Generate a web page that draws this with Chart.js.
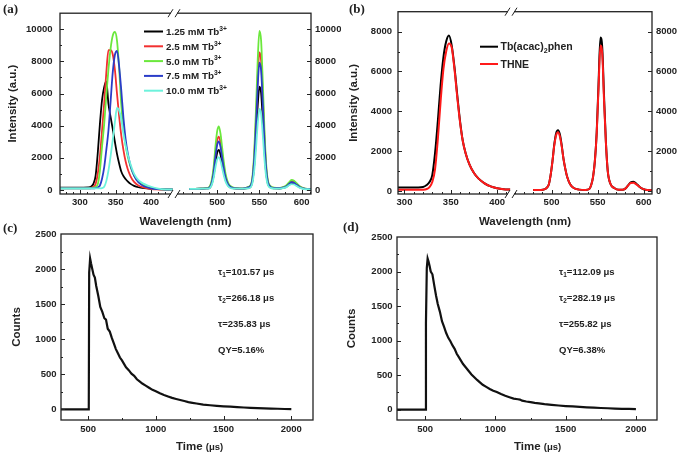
<!DOCTYPE html>
<html>
<head>
<meta charset="utf-8">
<script src="https://cdn.jsdelivr.net/npm/chart.js@4.4.0/dist/chart.umd.min.js"></script>
<style>
  body { margin: 0; background: #fff; width: 682px; height: 455px; position: relative; overflow: hidden; }
  canvas { position: absolute; }
</style>
</head>
<body>
<canvas id="ca" width="341" height="235" style="left:0;top:0"></canvas>
<canvas id="cb" width="341" height="235" style="left:341px;top:0"></canvas>
<canvas id="cc" width="341" height="245" style="left:0;top:210px"></canvas>
<canvas id="cd" width="341" height="245" style="left:341px;top:210px"></canvas>
<script>
// ---- panel (a): excitation (left) / emission (right), five Tb3+ concentrations ----
const A_LEFT_NM = [272, 290, 305, 312, 316, 319, 322, 325, 328, 331, 334, 337, 340, 343, 346, 349, 352, 355, 358, 361, 364, 367, 371, 376, 382, 390, 400, 410, 420, 430];
const A_LEFT = [
  [150, 150, 150, 160, 220, 400, 900, 2300, 4100, 5600, 6400, 6750, 5350, 4550, 3800, 3000, 2250, 1650, 1150, 870, 680, 530, 380, 260, 170, 110, 70, 50, 40, 40],
  [120, 120, 120, 120, 140, 200, 380, 1000, 2100, 3700, 5400, 7300, 8700, 8700, 8450, 7500, 6000, 4600, 3400, 2500, 1800, 1300, 850, 500, 280, 150, 60, 30, 20, 20],
  [100, 100, 100, 100, 110, 140, 200, 350, 1200, 2700, 4100, 5900, 7500, 8800, 9600, 9830, 9300, 7600, 5300, 3800, 2800, 2100, 1450, 900, 520, 270, 120, 50, 30, 30],
  [100, 100, 100, 100, 100, 100, 120, 160, 280, 700, 1400, 2500, 3700, 5500, 7300, 8400, 8650, 7700, 6200, 4500, 3200, 2300, 1500, 900, 480, 230, 100, 50, 30, 30],
  [100, 100, 100, 100, 100, 100, 100, 100, 100, 120, 200, 550, 1200, 2100, 3100, 4200, 5100, 4950, 4400, 3500, 2800, 2200, 1600, 1000, 620, 380, 200, 90, 40, 30]
];
const A_RIGHT_NM = [467, 474, 481, 487, 490, 492, 494, 496, 498, 500, 502, 504, 506, 508, 510, 513, 517, 524, 530, 534, 537, 540, 542, 544, 546, 548, 550, 552, 554, 556, 558, 560, 563, 567, 574, 578, 582, 585, 588, 591, 594, 598, 603, 607, 611];
const A_RIGHT = [
  [70, 70, 80, 95, 95, 190, 440, 945, 1700, 2300, 2490, 2200, 1640, 1070, 630, 285, 125, 90, 80, 100, 130, 230, 620, 1620, 3310, 5260, 6430, 6040, 4350, 2400, 1040, 390, 160, 100, 90, 125, 210, 335, 435, 400, 295, 155, 70, 45, 40],
  [70, 70, 80, 100, 130, 250, 590, 1260, 2270, 3070, 3320, 2940, 2180, 1430, 840, 380, 170, 100, 85, 120, 180, 300, 820, 2160, 4410, 7010, 8560, 8040, 5800, 3200, 1380, 520, 220, 130, 120, 160, 270, 430, 560, 510, 380, 200, 90, 55, 45],
  [70, 70, 80, 110, 150, 300, 700, 1500, 2700, 3650, 3950, 3500, 2600, 1700, 1000, 450, 200, 110, 90, 130, 200, 350, 950, 2500, 5100, 8100, 9900, 9300, 6700, 3700, 1600, 600, 250, 150, 130, 180, 300, 480, 620, 570, 420, 220, 100, 60, 50],
  [70, 70, 80, 100, 115, 230, 535, 1150, 2070, 2790, 3020, 2680, 1990, 1300, 765, 345, 155, 100, 85, 115, 160, 280, 760, 2000, 4080, 6480, 7920, 7440, 5360, 2960, 1280, 480, 200, 120, 110, 140, 230, 370, 480, 440, 320, 170, 80, 50, 45],
  [70, 70, 80, 90, 80, 155, 365, 780, 1400, 1900, 2050, 1820, 1350, 885, 520, 235, 105, 90, 80, 90, 100, 180, 485, 1275, 2600, 4130, 5050, 4740, 3420, 1890, 815, 305, 130, 90, 80, 110, 180, 290, 370, 340, 250, 130, 60, 45, 40]
];
const A_NAMES = ['1.25 mM Tb', '2.5 mM Tb', '5.0 mM Tb', '7.5 mM Tb', '10.0 mM Tb'];
const A_COLORS = ['#000000', '#f23030', '#6be83c', '#2a3cc8', '#6df2dc'];

// ---- panel (b): Tb(acac)2phen vs THNE ----
const B_LEFT_NM = [293, 305, 315, 320, 324, 327, 330, 333, 336, 339, 342, 345, 348, 351, 354, 357, 360, 363, 366, 370, 375, 380, 386, 393, 400, 407, 414];
const B_COMPLEX_L = [180, 180, 180, 200, 300, 450, 800, 1900, 3500, 5300, 6700, 7500, 7800, 7300, 6200, 4800, 3500, 2500, 1900, 1350, 900, 620, 400, 230, 140, 90, 70];
const B_THNE_L = [60, 60, 60, 65, 100, 200, 450, 1100, 2600, 4500, 6100, 7000, 7400, 7200, 6100, 4700, 3450, 2500, 1900, 1350, 900, 620, 400, 230, 140, 90, 70];
const B_RIGHT_NM = [480, 488, 492, 495, 497, 499, 501, 503, 505, 507, 509, 511, 513, 515, 517, 520, 524, 530, 537, 541, 543, 545, 547, 549, 551, 553, 555, 557, 559, 561, 564, 568, 573, 577, 580, 583, 586, 589, 592, 596, 600, 604, 609];
const B_COMPLEX_R = [50, 55, 80, 170, 330, 800, 1500, 2350, 2900, 3050, 2850, 2300, 1600, 1100, 700, 350, 150, 70, 55, 100, 300, 700, 1500, 2950, 5400, 7700, 7200, 4700, 2450, 1000, 350, 150, 60, 60, 120, 280, 440, 470, 370, 190, 90, 50, 35];
const B_THNE_R = [50, 55, 80, 170, 330, 800, 1500, 2300, 2800, 2950, 2750, 2250, 1600, 1100, 700, 350, 150, 70, 55, 100, 300, 700, 1500, 2900, 5200, 7300, 6900, 4500, 2400, 1000, 350, 150, 60, 60, 120, 270, 400, 410, 330, 190, 90, 50, 35];

// ---- panels (c), (d): decay curves ----
const C_TIME = [300, 505, 508, 515, 522, 530, 540, 550, 560, 575, 590, 605, 620, 632, 645, 660, 675, 690, 705, 720, 735, 750, 765, 780, 800, 820, 840, 860, 880, 900, 925, 950, 975, 1000, 1030, 1060, 1090, 1120, 1150, 1180, 1210, 1240, 1270, 1300, 1350, 1400, 1450, 1500, 1550, 1600, 1650, 1700, 1750, 1800, 1850, 1900, 1950, 2000];
const C_COUNTS = [0, 0, 1950, 2150, 2080, 2010, 1920, 1880, 1760, 1620, 1460, 1390, 1300, 1280, 1150, 1110, 1020, 940, 860, 800, 740, 700, 650, 600, 560, 510, 480, 430, 400, 370, 340, 310, 280, 260, 230, 205, 185, 165, 150, 135, 120, 105, 95, 85, 70, 60, 52, 45, 40, 33, 28, 22, 18, 15, 12, 10, 7, 5];
const D_TIME = [300, 504, 506, 512, 518, 524, 532, 540, 552, 565, 578, 590, 605, 620, 635, 650, 665, 680, 695, 710, 725, 740, 755, 770, 790, 810, 830, 850, 870, 890, 910, 935, 960, 985, 1010, 1040, 1070, 1100, 1130, 1160, 1175, 1190, 1220, 1250, 1280, 1310, 1350, 1400, 1450, 1500, 1550, 1600, 1650, 1700, 1750, 1800, 1850, 1900, 1950, 2000];
const D_COUNTS = [0, 0, 1250, 2050, 2190, 2150, 2080, 2000, 1960, 1800, 1650, 1530, 1420, 1280, 1200, 1110, 1040, 990, 930, 880, 810, 760, 710, 660, 610, 560, 510, 470, 430, 395, 360, 330, 300, 275, 255, 225, 200, 180, 160, 150, 145, 130, 118, 108, 98, 90, 80, 70, 60, 52, 46, 40, 34, 28, 24, 20, 15, 12, 10, 8];
const C_NOTES = [['1', '=101.57 μs'], ['2', '=266.18 μs'], [null, 'τ=235.83 μs'], [null, 'QY=5.16%']];
const D_NOTES = [['1', '=112.09 μs'], ['2', '=282.19 μs'], [null, 'τ=255.82 μs'], [null, 'QY=6.38%']];

// tick labels
const WL_LEFT_LABELS = [300, 350, 400];
const WL_RIGHT_LABELS = [500, 550, 600];
const A_Y_LABELS = [0, 2000, 4000, 6000, 8000, 10000];
const B_Y_LABELS = [0, 2000, 4000, 6000, 8000];
const T_LABELS = [500, 1000, 1500, 2000];
const CNT_LABELS = [0, 500, 1000, 1500, 2000, 2500];

const FONT = "'Liberation Sans', Arial, sans-serif";
const SERIF = "'Liberation Serif', 'Times New Roman', serif";
Chart.defaults.font.family = FONT;
Chart.defaults.font.weight = 'bold';
Chart.defaults.font.size = 9.5;
Chart.defaults.color = '#222';

function pts(xs, ys) { return xs.map((x, i) => ({x: x, y: ys[i]})); }
function seq(a, b, st) { const out = []; for (let v = a; v <= b + 1e-9; v += st) out.push(v); return out; }

function drawRich(ctx, t) {
  const fam = t.family || FONT;
  const size = sg => (sg[2] || t.size) * (sg[1] ? 0.68 : 1);
  let w = 0;
  t.segs.forEach(sg => { ctx.font = 'bold ' + size(sg) + 'px ' + fam; w += ctx.measureText(sg[0]).width; });
  let x = t.align === 'center' ? t.x - w / 2 : t.x;
  ctx.textAlign = 'left';
  ctx.textBaseline = 'alphabetic';
  t.segs.forEach(sg => {
    const base = sg[2] || t.size;
    ctx.font = 'bold ' + size(sg) + 'px ' + fam;
    const dy = sg[1] === 1 ? -base * 0.42 : sg[1] === -1 ? base * 0.22 : 0;
    ctx.fillText(sg[0], x, t.y + dy);
    x += ctx.measureText(sg[0]).width;
  });
}

// frame, inward ticks, axis break, legend lines and free text
const decor = {
  id: 'decor',
  afterDatasetsDraw(chart, args, o) {
    const {ctx, chartArea: a} = chart;
    ctx.save();
    ctx.strokeStyle = '#222';
    ctx.lineWidth = 1.3;
    ctx.strokeRect(a.left, a.top, a.width, a.height);
    ctx.lineWidth = 1;
    o.tickAxes.forEach(id => {
      const s = chart.scales[id];
      s.ticks.forEach(t => {
        if (t.value <= s.min || t.value >= s.max) return;
        const len = t.label ? 4 : 2;
        const p = Math.round(s.getPixelForValue(t.value)) + 0.5;
        ctx.beginPath();
        if (s.isHorizontal()) { ctx.moveTo(p, a.bottom); ctx.lineTo(p, a.bottom - len); }
        else if (s.position === 'left') { ctx.moveTo(a.left, p); ctx.lineTo(a.left + len, p); }
        else { ctx.moveTo(a.right, p); ctx.lineTo(a.right - len, p); }
        ctx.stroke();
      });
    });
    if (o.brk) {
      const bx = chart.scales.xl.right;
      [a.top, a.bottom].forEach(by => {
        ctx.fillStyle = '#fff';
        ctx.fillRect(bx - 3, by - 2, 6, 4);
        ctx.beginPath();
        ctx.moveTo(bx - 6, by + 4); ctx.lineTo(bx - 1, by - 4);
        ctx.moveTo(bx + 1, by + 4); ctx.lineTo(bx + 6, by - 4);
        ctx.stroke();
      });
    }
    (o.legend || []).forEach(it => {
      ctx.strokeStyle = it.color;
      ctx.lineWidth = 2;
      ctx.beginPath(); ctx.moveTo(it.x1, it.y); ctx.lineTo(it.x2, it.y); ctx.stroke();
    });
    ctx.fillStyle = '#222';
    (o.texts || []).forEach(t => drawRich(ctx, t));
    ctx.restore();
  }
};

function axisTicks(tickVals, labels, pad) {
  return {
    afterBuildTicks: s => { s.ticks = tickVals.map(v => ({value: v})); },
    ticks: {autoSkip: false, maxRotation: 0, padding: pad, callback: v => (labels.includes(v) ? String(v) : '')}
  };
}
function yScale(pos, min, max, tickVals, labels, width, pad, title, titlePad) {
  return Object.assign({
    type: 'linear', position: pos, min: min, max: max,
    grid: {display: false, drawTicks: false}, border: {display: false},
    title: title ? {display: true, text: title, font: {size: 11.5}, padding: {top: titlePad, bottom: 0}} : {display: false},
    afterFit: s => { s.width = width; }
  }, axisTicks(tickVals, labels, pad));
}
function xScale(min, max, tickVals, labels, height, pad, stackW) {
  const o = Object.assign({
    type: 'linear', position: 'bottom', min: min, max: max,
    grid: {display: false, drawTicks: false}, border: {display: false},
    afterFit: s => { s.height = height; }
  }, axisTicks(tickVals, labels, pad));
  if (stackW) { o.stack = 'wl'; o.stackWeight = stackW; }
  return o;
}
function baseOptions(pad, scales, decorOpts, lineW, smooth) {
  return {
    responsive: false, animation: false,
    layout: {padding: pad},
    elements: {point: {radius: 0}, line: {borderWidth: lineW, cubicInterpolationMode: smooth ? 'monotone' : 'default', tension: 0}},
    plugins: {legend: {display: false}, tooltip: {enabled: false}, decor: decorOpts},
    scales: scales
  };
}

// ---- (a) ----
const dsA = [];
A_NAMES.forEach((n, i) => {
  dsA.push({label: n, data: pts(A_LEFT_NM, A_LEFT[i]), borderColor: A_COLORS[i], xAxisID: 'xl', yAxisID: 'y', order: 5 - i});
  dsA.push({label: n, data: pts(A_RIGHT_NM, A_RIGHT[i]), borderColor: A_COLORS[i], xAxisID: 'xr', yAxisID: 'y', order: 5 - i});
});
const textsA = [
  {x: 3, y: 12.5, size: 13, family: SERIF, segs: [['(a)', 0]]},
  {x: 185.5, y: 225, size: 11.5, align: 'center', segs: [['Wavelength (nm)', 0]]}
];
const legA = [];
A_NAMES.forEach((n, i) => {
  const y = 31.5 + 14.8 * i;
  legA.push({x1: 144, x2: 163, y: y, color: A_COLORS[i]});
  textsA.push({x: 166, y: y + 3.5, size: 9.8, segs: [[n, 0], ['3+', 1]]});
});
new Chart(document.getElementById('ca'), {
  type: 'line',
  data: {datasets: dsA},
  options: baseOptions({top: 12, left: 0, right: 0, bottom: 0}, {
    xl: xScale(272, 432, seq(280, 420, 10), WL_LEFT_LABELS, 41, 3, 114),
    xr: xScale(449, 611, seq(450, 610, 10), WL_RIGHT_LABELS, 41, 3, 137),
    y: yScale('left', -250, 11000, seq(0, 11000, 1000), A_Y_LABELS, 60, 7.5, 'Intensity (a.u.)', 6),
    y2: yScale('right', -250, 11000, seq(0, 11000, 1000), A_Y_LABELS, 30, 4)
  }, {tickAxes: ['xl', 'xr', 'y', 'y2'], brk: true, legend: legA, texts: textsA}, 1.8, true),
  plugins: [decor]
});

// ---- (b) ----
new Chart(document.getElementById('cb'), {
  type: 'line',
  data: {datasets: [
    {label: 'Tb(acac)2phen', data: pts(B_LEFT_NM, B_COMPLEX_L), borderColor: '#000', xAxisID: 'xl', yAxisID: 'y', order: 2},
    {label: 'Tb(acac)2phen', data: pts(B_RIGHT_NM, B_COMPLEX_R), borderColor: '#000', xAxisID: 'xr', yAxisID: 'y', order: 2},
    {label: 'THNE', data: pts(B_LEFT_NM, B_THNE_L), borderColor: '#ff1a1a', xAxisID: 'xl', yAxisID: 'y', order: 1},
    {label: 'THNE', data: pts(B_RIGHT_NM, B_THNE_R), borderColor: '#ff1a1a', xAxisID: 'xr', yAxisID: 'y', order: 1}
  ]},
  options: baseOptions({top: 11, left: 0, right: 0, bottom: 0}, {
    xl: xScale(293, 415, seq(300, 410, 10), WL_LEFT_LABELS, 41, 3, 113),
    xr: xScale(456, 609, seq(460, 600, 10), WL_RIGHT_LABELS, 41, 3, 141),
    y: yScale('left', -150, 9000, seq(0, 8000, 1000), B_Y_LABELS, 57, 6, 'Intensity (a.u.)', 6),
    y2: yScale('right', -150, 9000, seq(0, 8000, 1000), B_Y_LABELS, 30, 4)
  }, {
    tickAxes: ['xl', 'xr', 'y', 'y2'], brk: true,
    legend: [{x1: 139, x2: 157, y: 46.7, color: '#000'}, {x1: 139, x2: 157, y: 64, color: '#ff1a1a'}],
    texts: [
      {x: 8, y: 12.5, size: 13, family: SERIF, segs: [['(b)', 0]]},
      {x: 184, y: 225, size: 11.5, align: 'center', segs: [['Wavelength (nm)', 0]]},
      {x: 159.5, y: 50.4, size: 10.5, segs: [['Tb(acac)', 0], ['2', -1], ['phen', 0]]},
      {x: 159.5, y: 67.7, size: 10.5, segs: [['THNE', 0]]}
    ]
  }, 2, true),
  plugins: [decor]
});

// ---- (c), (d) ----
function noteTexts(notes) {
  const ys = [64.6, 91.3, 117, 143];
  return notes.map((n, i) => ({x: 218, y: ys[i], size: 9.5,
    segs: n[0] ? [['τ', 0], [n[0], -1], [n[1], 0]] : [[n[1], 0]]}));
}
function decayChart(id, times, counts, label, pad, yW, tMax, titlePad, titleX, labelX, labelY, notes) {
  new Chart(document.getElementById(id), {
    type: 'line',
    data: {datasets: [{label: 'Counts', data: pts(times, counts), borderColor: '#111', xAxisID: 'x', yAxisID: 'y'}]},
    options: baseOptions(pad, {
      x: xScale(300, tMax, seq(500, 2000, 250), T_LABELS, 35, 3.5),
      y: yScale('left', -150, 2500, seq(0, 2500, 250), CNT_LABELS, yW, 4.5, 'Counts', titlePad)
    }, {
      tickAxes: ['x', 'y'],
      texts: [
        {x: labelX, y: labelY, size: 13, family: SERIF, segs: [[label, 0]]},
        {x: titleX, y: 240, size: 11.5, segs: [['Time ', 0], ['(μs)', 0, 9.5]]}
      ].concat(noteTexts(notes))
    }, 2.2, false),
    plugins: [decor]
  });
}
decayChart('cc', C_TIME, C_COUNTS, '(c)', {top: 24, left: 0, right: 28, bottom: 0}, 61, 2160, 10.4, 176, 3, 21.5, C_NOTES);
decayChart('cd', D_TIME, D_COUNTS, '(d)', {top: 27, left: 0, right: 25, bottom: 0}, 56, 2150, 3.8, 173, 2, 20.5, D_NOTES);
</script>
</body>
</html>
